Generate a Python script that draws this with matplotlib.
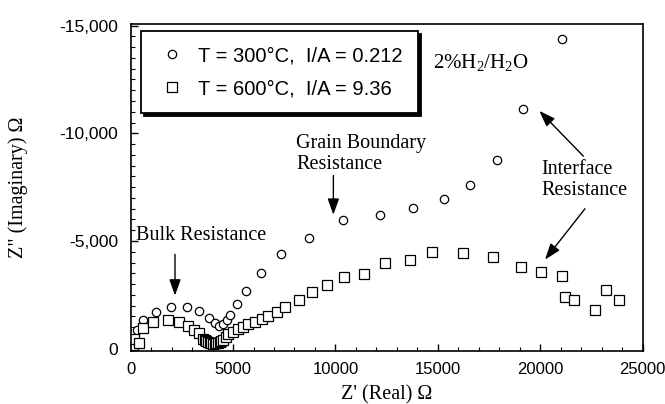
import matplotlib
matplotlib.use("Agg")
import matplotlib.pyplot as plt
from matplotlib.ticker import MultipleLocator, FuncFormatter

plt.rcParams['mathtext.fontset'] = 'custom'
plt.rcParams['mathtext.rm'] = 'Liberation Serif'
plt.rcParams['mathtext.it'] = 'Liberation Serif:italic'

# ---------------- data (Z' real, Z'' imaginary, ohm) ----------------

# T = 300 C, I/A = 0.212 (circles)
c300_x = [130, 325, 615, 1240, 1950, 2770, 3350, 3840, 4120, 4330, 4520, 4690,
          4850, 5180, 5650, 6350, 7360, 8730, 10390, 12180, 13780, 15300, 16580,
          17880, 19180, 21080]
c300_y = [-140, -870, -1355, -1700, -1960, -1960, -1740, -1450, -1200, -1050, -1170, -1320,
          -1580, -2090, -2700, -3530, -4420, -5130, -5970, -6220, -6540, -6950, -7590,
          -8780, -11110, -14370]

# T = 600 C, I/A = 9.36 (squares)
s600_x = [130, 160, 420, 615, 1100, 1840, 2380, 2810, 3090, 3350, 3550, 3620,
          3700, 3780, 3860, 3940, 4020, 4100, 4180, 4260, 4340, 4420, 4520, 4640,
          4770, 5010, 5260, 5500, 5750, 6070, 6400, 6720, 7130, 7540, 8220, 8840,
          9570, 10430, 11410, 12420, 13640, 14730, 16250, 17710, 19050, 20030, 21080,
          21230, 21670, 22680, 23220, 23870]
s600_y = [-180, -470, -290, -945, -1250, -1355, -1250, -1050, -870, -715, -470, -390,
          -340, -300, -270, -250, -240, -250, -260, -290, -320, -360, -420, -560,
          -670, -790, -900, -1020, -1130, -1250, -1370, -1510, -1700, -1930, -2270, -2620,
          -2950, -3350, -3460, -3990, -4120, -4490, -4430, -4280, -3790, -3560, -3380,
          -2390, -2270, -1810, -2730, -2270]

x_ticks = [0, 5000, 10000, 15000, 20000, 25000]
y_ticks = [0, -5000, -10000, -15000]

serif = 'Liberation Serif'
sans = 'Liberation Sans'

fig = plt.figure(figsize=(6.65, 4.04), dpi=100)
ax = fig.add_axes([0.1965, 0.1319, 0.7697, 0.8075])

ax.plot(c300_x, c300_y, 'o', ms=6, mfc='white', mec='black', mew=0.9,
        label='T = 300°C,  I/A = 0.212')
ax.plot(s600_x, s600_y, 's', ms=6.5, mfc='white', mec='black', mew=0.9,
        label='T = 600°C,  I/A = 9.36')

ax.set_xlim(0, 25000)
ax.set_ylim(90, -15050)

ax.set_xticks(x_ticks)
ax.set_yticks(y_ticks)
ax.xaxis.set_minor_locator(MultipleLocator(1000))
ax.yaxis.set_minor_locator(MultipleLocator(500))
ax.yaxis.set_major_formatter(FuncFormatter(lambda v, p: f'{v:,.0f}'))
ax.xaxis.set_major_formatter(FuncFormatter(lambda v, p: f'{v:.0f}'))
ax.tick_params(which='both', direction='in', top=False, right=False)
ax.tick_params(which='major', length=5, width=1)
ax.tick_params(which='minor', length=3, width=0.8)
ax.tick_params(axis='x', which='major', pad=8, labelsize=12)
ax.tick_params(axis='y', which='major', pad=9, labelsize=12.5)
for lab in ax.get_xticklabels() + ax.get_yticklabels():
    lab.set_fontfamily(sans)
for s in ax.spines.values():
    s.set_linewidth(1.2)

ax.set_xlabel("Z' (Real) Ω", fontfamily=serif, fontsize=14.5, labelpad=6)
ax.set_ylabel('Z" (Imaginary) Ω', fontfamily=serif, fontsize=14.5)
ax.yaxis.set_label_coords(-0.2, 0.5)

leg = ax.legend(loc='upper left', bbox_to_anchor=(0.02, 0.98), borderaxespad=0,
                prop={'family': sans, 'size': 14.5}, fancybox=False, framealpha=1,
                edgecolor='black', handlelength=1.6, handletextpad=0.5,
                borderpad=0.75, labelspacing=0.7,
                shadow={'color': 'black', 'alpha': 1})
leg.get_frame().set_linewidth(1.3)

ax.text(14770, -13290, '2%H$_2$/H$_2$O', fontfamily=serif, fontsize=15,
        ha='left', va='center')

arrow = dict(arrowstyle='-|>,head_length=0.7,head_width=0.25', color='black',
             lw=1, shrinkA=0, shrinkB=0, mutation_scale=14)

ax.text(260, -5250, 'Bulk Resistance', fontfamily=serif, fontsize=14.5,
        ha='left', va='center')
ax.annotate('', xy=(2165, -2470), xytext=(2165, -4380), arrowprops=arrow)

ax.text(8075, -9045, 'Grain Boundary\nResistance', fontfamily=serif, fontsize=14.5,
        ha='left', va='center', linespacing=1.1)
ax.annotate('', xy=(9900, -6220), xytext=(9900, -8040), arrowprops=arrow)

ax.text(20080, -7830, 'Interface\nResistance', fontfamily=serif, fontsize=14.5,
        ha='left', va='center', linespacing=1.1)
ax.annotate('', xy=(19960, -11040), xytext=(22110, -8940), arrowprops=arrow)
ax.annotate('', xy=(20240, -4140), xytext=(22190, -6500), arrowprops=arrow)

fig.savefig('out.png', dpi=100)
